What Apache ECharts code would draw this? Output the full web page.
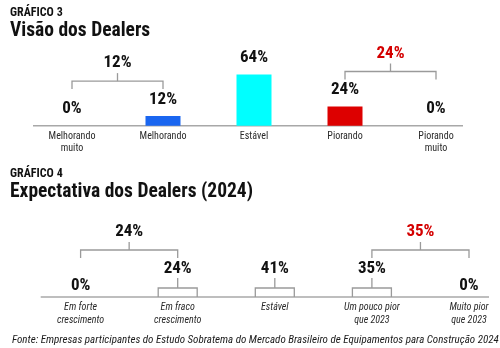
<!DOCTYPE html>
<html>
<head>
<meta charset="utf-8">
<script src="https://cdn.jsdelivr.net/npm/echarts@6/dist/echarts.min.js"></script>
<style>
  html, body { margin: 0; padding: 0; background: #ffffff; }
  #chart { width: 500px; height: 348px; }
</style>
</head>
<body>
<div id="chart"></div>
<script>
// ---- Data -------------------------------------------------------------
const visaoCategories = ['Melhorando\nmuito', 'Melhorando', 'Estável', 'Piorando', 'Piorando\nmuito'];
const visaoValues = [0, 12, 64, 24, 0];
const visaoColors = ['#1a66f0', '#1a66f0', '#00ffff', '#dd0000', '#dd0000'];
const visaoGroups = [[0, 1], [3, 4]];

const expectCategories = ['Em forte\ncrescimento', 'Em fraco\ncrescimento', 'Estável', 'Um pouco pior\nque 2023', 'Muito pior\nque 2023'];
const expectValues = [0, 24, 41, 35, 0];
const expectGroups = [[0, 1], [3, 4]];

const groupLabelColors = ['#111111', '#d40000'];

// ---- Styling ------------------------------------------------------------
const FONT = "'Roboto Condensed', 'Open Sans Condensed', 'DejaVu Sans Condensed', sans-serif";
const LINE = '#9a9a9a';
const INK = '#111111';
const VALUE_FONT = 'bold 17px ' + FONT;

const G3 = { left: 72, right: 64, top: 45.7, height: 80 };
const G4 = { left: 80.6, right: 31, top: 217, height: 80 };
const base3 = G3.top + G3.height;
const base4 = G4.top + G4.height;

const pct = v => Math.round(v) + '%';
const sumOf = (vals, g) => g.reduce((s, i) => s + vals[i], 0);

// bracket + summary text above a pair of categories
function groupBracket(x0, x1, memberTop, label, color) {
  const legBottom = memberTop - 5.5;
  const h = legBottom - 8;
  const stemTop = h - 8;
  const xm = (x0 + x1) / 2;
  return {
    type: 'group',
    children: [
      { type: 'polyline', shape: { points: [[x0, legBottom], [x0, h], [x1, h], [x1, legBottom]] },
        style: { stroke: LINE, lineWidth: 1.3, fill: null } },
      { type: 'line', shape: { x1: xm, y1: h, x2: xm, y2: stemTop },
        style: { stroke: LINE, lineWidth: 1.3 } },
      { type: 'text', x: xm, y: stemTop - 10,
        style: { text: label, fill: color, font: VALUE_FONT, align: 'center', verticalAlign: 'middle' } }
    ]
  };
}

// label centres
const labelCenter3 = (api, i) => api.coord([i, visaoValues[i]])[1] - 16;
const labelCenter4 = (api, i) => api.coord([i, 0])[1] - (expectValues[i] > 0 ? 28 : 11.5);

const axisCommon = {
  type: 'category',
  boundaryGap: false,
  axisLine: { show: false },
  axisTick: { show: false },
  splitLine: { show: false }
};

const option = {
  backgroundColor: '#ffffff',
  animation: false,
  grid: [
    { left: G3.left, right: G3.right, top: G3.top, height: G3.height },
    { left: G4.left, right: G4.right, top: G4.top, height: G4.height }
  ],
  xAxis: [
    Object.assign({}, axisCommon, {
      gridIndex: 0, data: visaoCategories,
      axisLabel: { margin: 5, fontFamily: FONT, fontSize: 10, color: '#2a2a2a', lineHeight: 12, interval: 0 }
    }),
    Object.assign({}, axisCommon, {
      gridIndex: 1, data: expectCategories,
      axisLabel: { margin: 4, fontFamily: FONT, fontSize: 10, fontStyle: 'italic', color: '#2a2a2a', lineHeight: 13, interval: 0 }
    })
  ],
  yAxis: [
    { type: 'value', gridIndex: 0, min: 0, max: 100, show: false },
    { type: 'value', gridIndex: 1, min: 0, max: 100, show: false }
  ],
  graphic: [
    { type: 'text', left: 10, top: 7, style: { text: 'GRÁFICO 3', font: 'bold 12px ' + FONT, fill: INK } },
    { type: 'text', left: 10, top: 21, style: { text: 'Visão dos Dealers', font: 'bold 19.5px ' + FONT, fill: INK } },
    { type: 'line', shape: { x1: 33, y1: base3, x2: 463, y2: base3 }, style: { stroke: '#a8a8a8', lineWidth: 1.5 } },
    { type: 'text', left: 10, top: 168, style: { text: 'GRÁFICO 4', font: 'bold 12px ' + FONT, fill: INK } },
    { type: 'text', left: 10, top: 182, style: { text: 'Expectativa dos Dealers (2024)', font: 'bold 19.5px ' + FONT, fill: INK } },
    { type: 'line', shape: { x1: 40.7, y1: base4, x2: 489, y2: base4 }, style: { stroke: '#a8a8a8', lineWidth: 1.5 } },
    { type: 'text', left: 12, top: 335,
      style: { text: 'Fonte: Empresas participantes do Estudo Sobratema do Mercado Brasileiro de Equipamentos para Construção 2024',
               font: 'italic 11px ' + FONT, fill: '#1a1a1a' } }
  ],
  series: [
    {
      type: 'bar', xAxisIndex: 0, yAxisIndex: 0, barWidth: 35,
      data: visaoValues.map((v, i) => ({ value: v, itemStyle: { color: visaoColors[i] } })),
      label: { show: true, position: 'top', distance: 8, formatter: p => pct(p.value),
               fontFamily: FONT, fontSize: 17, fontWeight: 'bold', color: INK }
    },
    {
      type: 'custom', xAxisIndex: 0, yAxisIndex: 0, clip: false,
      encode: { x: 0, y: 2 },
      data: visaoGroups.map(g => [g[0], g[1], sumOf(visaoValues, g)]),
      renderItem: (params, api) => {
        const i0 = api.value(0), i1 = api.value(1);
        const x0 = api.coord([i0, 0])[0], x1 = api.coord([i1, 0])[0];
        const top = Math.min(labelCenter3(api, i0), labelCenter3(api, i1)) - 5.5;
        return groupBracket(x0, x1, top, pct(api.value(2)), groupLabelColors[params.dataIndex]);
      }
    },
    {
      type: 'custom', xAxisIndex: 1, yAxisIndex: 1, clip: false,
      encode: { x: 0, y: 1 },
      data: expectValues.map((v, i) => [i, v]),
      renderItem: (params, api) => {
        const i = api.value(0), v = api.value(1);
        const p = api.coord([i, 0]);
        const x = p[0], by = p[1];
        const children = [];
        if (v > 0) {
          const hw = 19.5, bh = 9;
          children.push(
            { type: 'polyline', shape: { points: [[x - hw, by], [x - hw, by - bh], [x + hw, by - bh], [x + hw, by]] },
              style: { stroke: LINE, lineWidth: 1.3, fill: null } },
            { type: 'line', shape: { x1: x, y1: by - bh, x2: x, y2: by - bh - 10 },
              style: { stroke: LINE, lineWidth: 1.3 } }
          );
        }
        children.push({ type: 'text', x: x, y: labelCenter4(api, i),
          style: { text: pct(v), font: VALUE_FONT, fill: INK, align: 'center', verticalAlign: 'middle' } });
        return { type: 'group', children: children };
      }
    },
    {
      type: 'custom', xAxisIndex: 1, yAxisIndex: 1, clip: false,
      encode: { x: 0, y: 2 },
      data: expectGroups.map(g => [g[0], g[1], sumOf(expectValues, g)]),
      renderItem: (params, api) => {
        const i0 = api.value(0), i1 = api.value(1);
        const x0 = api.coord([i0, 0])[0], x1 = api.coord([i1, 0])[0];
        const top = Math.min(labelCenter4(api, i0), labelCenter4(api, i1)) - 5.5;
        return groupBracket(x0, x1, top, pct(api.value(2)), groupLabelColors[params.dataIndex]);
      }
    }
  ]
};

const chart = echarts.init(document.getElementById('chart'), null, { renderer: 'canvas' });
chart.setOption(option);
</script>
</body>
</html>
